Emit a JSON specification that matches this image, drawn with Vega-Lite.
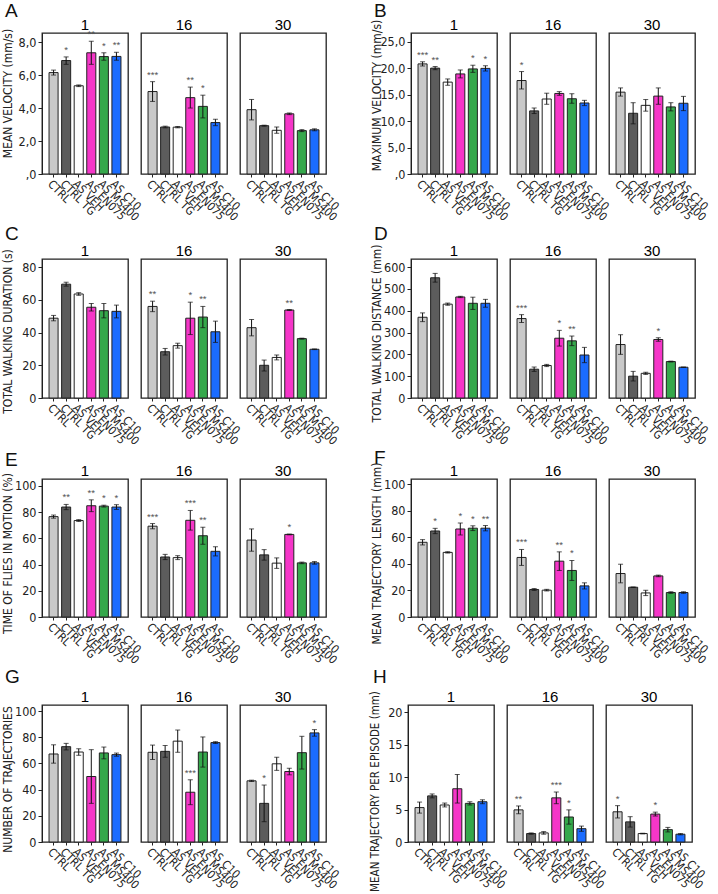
{
"$schema": "https://vega.github.io/schema/vega-lite/v6.json",
"background": "white",
"padding": {"left": 0, "top": 2, "right": 0, "bottom": 0},
"datasets": {"d": [
{"p":"A","day":"1","g":"CTRL","m":6.15,"lo":6.0,"hi":6.3,"s":""},
{"p":"A","day":"1","g":"CTRL TG","m":6.88,"lo":6.65,"hi":7.1,"s":"*"},
{"p":"A","day":"1","g":"AS VEH","m":5.35,"lo":5.3,"hi":5.4,"s":""},
{"p":"A","day":"1","g":"AS EN075","m":7.35,"lo":6.65,"hi":8.05,"s":"**"},
{"p":"A","day":"1","g":"AS MS400","m":7.12,"lo":6.9,"hi":7.35,"s":"*"},
{"p":"A","day":"1","g":"AS C10","m":7.13,"lo":6.9,"hi":7.38,"s":"**"},
{"p":"A","day":"16","g":"CTRL","m":5.0,"lo":4.4,"hi":5.6,"s":"***"},
{"p":"A","day":"16","g":"CTRL TG","m":2.85,"lo":2.8,"hi":2.9,"s":""},
{"p":"A","day":"16","g":"AS VEH","m":2.84,"lo":2.8,"hi":2.88,"s":""},
{"p":"A","day":"16","g":"AS EN075","m":4.63,"lo":4.0,"hi":5.27,"s":"**"},
{"p":"A","day":"16","g":"AS MS400","m":4.1,"lo":3.4,"hi":4.78,"s":"*"},
{"p":"A","day":"16","g":"AS C10","m":3.12,"lo":2.93,"hi":3.32,"s":""},
{"p":"A","day":"30","g":"CTRL","m":3.9,"lo":3.28,"hi":4.52,"s":""},
{"p":"A","day":"30","g":"CTRL TG","m":2.93,"lo":2.9,"hi":2.96,"s":""},
{"p":"A","day":"30","g":"AS VEH","m":2.65,"lo":2.47,"hi":2.85,"s":""},
{"p":"A","day":"30","g":"AS EN075","m":3.65,"lo":3.6,"hi":3.7,"s":""},
{"p":"A","day":"30","g":"AS MS400","m":2.63,"lo":2.57,"hi":2.69,"s":""},
{"p":"A","day":"30","g":"AS C10","m":2.68,"lo":2.62,"hi":2.74,"s":""},

{"p":"B","day":"1","g":"CTRL","m":20.85,"lo":20.45,"hi":21.25,"s":"***"},
{"p":"B","day":"1","g":"CTRL TG","m":20.05,"lo":19.75,"hi":20.35,"s":"**"},
{"p":"B","day":"1","g":"AS VEH","m":17.4,"lo":16.8,"hi":18.0,"s":""},
{"p":"B","day":"1","g":"AS EN075","m":18.95,"lo":18.2,"hi":19.7,"s":""},
{"p":"B","day":"1","g":"AS MS400","m":19.9,"lo":19.25,"hi":20.6,"s":"*"},
{"p":"B","day":"1","g":"AS C10","m":20.0,"lo":19.5,"hi":20.5,"s":"*"},
{"p":"B","day":"16","g":"CTRL","m":17.7,"lo":16.1,"hi":19.4,"s":"*"},
{"p":"B","day":"16","g":"CTRL TG","m":11.95,"lo":11.45,"hi":12.5,"s":""},
{"p":"B","day":"16","g":"AS VEH","m":14.2,"lo":13.2,"hi":15.3,"s":""},
{"p":"B","day":"16","g":"AS EN075","m":15.25,"lo":14.9,"hi":15.6,"s":""},
{"p":"B","day":"16","g":"AS MS400","m":14.25,"lo":13.4,"hi":15.2,"s":""},
{"p":"B","day":"16","g":"AS C10","m":13.45,"lo":12.95,"hi":13.95,"s":""},
{"p":"B","day":"30","g":"CTRL","m":15.5,"lo":14.75,"hi":16.3,"s":""},
{"p":"B","day":"30","g":"CTRL TG","m":11.5,"lo":9.5,"hi":13.5,"s":""},
{"p":"B","day":"30","g":"AS VEH","m":13.0,"lo":11.9,"hi":14.1,"s":""},
{"p":"B","day":"30","g":"AS EN075","m":14.75,"lo":13.2,"hi":16.3,"s":""},
{"p":"B","day":"30","g":"AS MS400","m":12.7,"lo":11.95,"hi":13.5,"s":""},
{"p":"B","day":"30","g":"AS C10","m":13.4,"lo":12.0,"hi":14.7,"s":""},

{"p":"C","day":"1","g":"CTRL","m":48.8,"lo":47.2,"hi":50.5,"s":""},
{"p":"C","day":"1","g":"CTRL TG","m":69.6,"lo":68.4,"hi":70.8,"s":""},
{"p":"C","day":"1","g":"AS VEH","m":63.6,"lo":62.8,"hi":64.4,"s":""},
{"p":"C","day":"1","g":"AS EN075","m":55.5,"lo":53.2,"hi":57.8,"s":""},
{"p":"C","day":"1","g":"AS MS400","m":53.4,"lo":49.0,"hi":57.8,"s":""},
{"p":"C","day":"1","g":"AS C10","m":53.0,"lo":49.0,"hi":56.8,"s":""},
{"p":"C","day":"16","g":"CTRL","m":56.0,"lo":52.8,"hi":59.2,"s":"**"},
{"p":"C","day":"16","g":"CTRL TG","m":28.3,"lo":26.3,"hi":30.3,"s":""},
{"p":"C","day":"16","g":"AS VEH","m":32.0,"lo":30.5,"hi":33.5,"s":""},
{"p":"C","day":"16","g":"AS EN075","m":48.8,"lo":38.8,"hi":58.6,"s":"*"},
{"p":"C","day":"16","g":"AS MS400","m":49.5,"lo":43.0,"hi":56.0,"s":"**"},
{"p":"C","day":"16","g":"AS C10","m":40.5,"lo":34.0,"hi":47.0,"s":""},
{"p":"C","day":"30","g":"CTRL","m":43.0,"lo":38.0,"hi":48.0,"s":""},
{"p":"C","day":"30","g":"CTRL TG","m":20.0,"lo":16.5,"hi":23.2,"s":""},
{"p":"C","day":"30","g":"AS VEH","m":24.8,"lo":23.3,"hi":26.3,"s":""},
{"p":"C","day":"30","g":"AS EN075","m":53.8,"lo":53.5,"hi":54.1,"s":"**"},
{"p":"C","day":"30","g":"AS MS400","m":36.3,"lo":36.0,"hi":36.6,"s":""},
{"p":"C","day":"30","g":"AS C10","m":29.8,"lo":29.6,"hi":30.0,"s":""},

{"p":"D","day":"1","g":"CTRL","m":370,"lo":350,"hi":390,"s":""},
{"p":"D","day":"1","g":"CTRL TG","m":551,"lo":531,"hi":571,"s":""},
{"p":"D","day":"1","g":"AS VEH","m":430,"lo":425,"hi":435,"s":""},
{"p":"D","day":"1","g":"AS EN075","m":463,"lo":460,"hi":466,"s":""},
{"p":"D","day":"1","g":"AS MS400","m":434,"lo":406,"hi":462,"s":""},
{"p":"D","day":"1","g":"AS C10","m":434,"lo":416,"hi":452,"s":""},
{"p":"D","day":"16","g":"CTRL","m":364,"lo":346,"hi":382,"s":"***"},
{"p":"D","day":"16","g":"CTRL TG","m":132,"lo":122,"hi":142,"s":""},
{"p":"D","day":"16","g":"AS VEH","m":149,"lo":144,"hi":154,"s":""},
{"p":"D","day":"16","g":"AS EN075","m":274,"lo":238,"hi":310,"s":"*"},
{"p":"D","day":"16","g":"AS MS400","m":262,"lo":240,"hi":284,"s":"**"},
{"p":"D","day":"16","g":"AS C10","m":197,"lo":162,"hi":232,"s":""},
{"p":"D","day":"30","g":"CTRL","m":245,"lo":200,"hi":290,"s":""},
{"p":"D","day":"30","g":"CTRL TG","m":100,"lo":78,"hi":122,"s":""},
{"p":"D","day":"30","g":"AS VEH","m":113,"lo":108,"hi":118,"s":""},
{"p":"D","day":"30","g":"AS EN075","m":268,"lo":260,"hi":276,"s":"*"},
{"p":"D","day":"30","g":"AS MS400","m":167,"lo":165,"hi":169,"s":""},
{"p":"D","day":"30","g":"AS C10","m":141,"lo":140,"hi":142,"s":""},

{"p":"E","day":"1","g":"CTRL","m":76.6,"lo":75.4,"hi":77.8,"s":""},
{"p":"E","day":"1","g":"CTRL TG","m":83.9,"lo":81.9,"hi":85.9,"s":"**"},
{"p":"E","day":"1","g":"AS VEH","m":73.6,"lo":72.9,"hi":74.3,"s":""},
{"p":"E","day":"1","g":"AS EN075","m":84.9,"lo":80.4,"hi":89.4,"s":"**"},
{"p":"E","day":"1","g":"AS MS400","m":84.6,"lo":83.9,"hi":85.3,"s":"*"},
{"p":"E","day":"1","g":"AS C10","m":83.9,"lo":82.1,"hi":85.7,"s":"*"},
{"p":"E","day":"16","g":"CTRL","m":69.3,"lo":67.3,"hi":71.3,"s":"***"},
{"p":"E","day":"16","g":"CTRL TG","m":45.8,"lo":43.8,"hi":47.8,"s":""},
{"p":"E","day":"16","g":"AS VEH","m":45.3,"lo":43.8,"hi":46.8,"s":""},
{"p":"E","day":"16","g":"AS EN075","m":73.8,"lo":66.3,"hi":81.3,"s":"***"},
{"p":"E","day":"16","g":"AS MS400","m":62.0,"lo":55.5,"hi":68.5,"s":"**"},
{"p":"E","day":"16","g":"AS C10","m":50.1,"lo":46.6,"hi":53.6,"s":""},
{"p":"E","day":"30","g":"CTRL","m":58.7,"lo":50.2,"hi":67.2,"s":""},
{"p":"E","day":"30","g":"CTRL TG","m":47.4,"lo":43.4,"hi":51.4,"s":""},
{"p":"E","day":"30","g":"AS VEH","m":41.1,"lo":37.1,"hi":45.1,"s":""},
{"p":"E","day":"30","g":"AS EN075","m":63.0,"lo":62.7,"hi":63.3,"s":"*"},
{"p":"E","day":"30","g":"AS MS400","m":41.3,"lo":40.7,"hi":41.9,"s":""},
{"p":"E","day":"30","g":"AS C10","m":41.3,"lo":40.3,"hi":42.3,"s":""},

{"p":"F","day":"1","g":"CTRL","m":56.2,"lo":54.2,"hi":58.2,"s":""},
{"p":"F","day":"1","g":"CTRL TG","m":64.7,"lo":62.7,"hi":66.7,"s":"*"},
{"p":"F","day":"1","g":"AS VEH","m":48.6,"lo":48.1,"hi":49.1,"s":""},
{"p":"F","day":"1","g":"AS EN075","m":66.2,"lo":61.7,"hi":70.7,"s":"*"},
{"p":"F","day":"1","g":"AS MS400","m":66.8,"lo":65.0,"hi":68.6,"s":"*"},
{"p":"F","day":"1","g":"AS C10","m":66.8,"lo":64.8,"hi":68.8,"s":"**"},
{"p":"F","day":"16","g":"CTRL","m":44.8,"lo":38.8,"hi":50.8,"s":"***"},
{"p":"F","day":"16","g":"CTRL TG","m":20.7,"lo":20.0,"hi":21.4,"s":""},
{"p":"F","day":"16","g":"AS VEH","m":20.2,"lo":19.6,"hi":20.8,"s":""},
{"p":"F","day":"16","g":"AS EN075","m":42.0,"lo":35.0,"hi":49.0,"s":"**"},
{"p":"F","day":"16","g":"AS MS400","m":35.0,"lo":27.5,"hi":42.5,"s":"*"},
{"p":"F","day":"16","g":"AS C10","m":23.4,"lo":21.1,"hi":25.7,"s":""},
{"p":"F","day":"30","g":"CTRL","m":32.7,"lo":25.7,"hi":39.7,"s":""},
{"p":"F","day":"30","g":"CTRL TG","m":22.4,"lo":22.2,"hi":22.6,"s":""},
{"p":"F","day":"30","g":"AS VEH","m":18.1,"lo":16.1,"hi":20.1,"s":""},
{"p":"F","day":"30","g":"AS EN075","m":30.9,"lo":30.3,"hi":31.5,"s":""},
{"p":"F","day":"30","g":"AS MS400","m":18.4,"lo":17.8,"hi":19.0,"s":""},
{"p":"F","day":"30","g":"AS C10","m":18.4,"lo":17.8,"hi":19.0,"s":""},

{"p":"G","day":"1","g":"CTRL","m":67.2,"lo":60.2,"hi":74.2,"s":""},
{"p":"G","day":"1","g":"CTRL TG","m":72.8,"lo":70.3,"hi":75.3,"s":""},
{"p":"G","day":"1","g":"AS VEH","m":68.7,"lo":66.2,"hi":71.2,"s":""},
{"p":"G","day":"1","g":"AS EN075","m":50.0,"lo":29.5,"hi":70.5,"s":""},
{"p":"G","day":"1","g":"AS MS400","m":68.0,"lo":63.5,"hi":72.5,"s":""},
{"p":"G","day":"1","g":"AS C10","m":66.7,"lo":65.5,"hi":67.9,"s":""},
{"p":"G","day":"16","g":"CTRL","m":68.5,"lo":63.0,"hi":74.0,"s":""},
{"p":"G","day":"16","g":"CTRL TG","m":69.2,"lo":64.7,"hi":73.7,"s":""},
{"p":"G","day":"16","g":"AS VEH","m":77.0,"lo":68.5,"hi":85.5,"s":""},
{"p":"G","day":"16","g":"AS EN075","m":38.0,"lo":28.5,"hi":47.5,"s":"***"},
{"p":"G","day":"16","g":"AS MS400","m":68.7,"lo":57.2,"hi":80.2,"s":""},
{"p":"G","day":"16","g":"AS C10","m":75.9,"lo":75.2,"hi":76.6,"s":""},
{"p":"G","day":"30","g":"CTRL","m":46.7,"lo":46.2,"hi":47.2,"s":""},
{"p":"G","day":"30","g":"CTRL TG","m":29.5,"lo":15.5,"hi":43.5,"s":"*"},
{"p":"G","day":"30","g":"AS VEH","m":59.7,"lo":54.7,"hi":64.7,"s":""},
{"p":"G","day":"30","g":"AS EN075","m":53.8,"lo":51.3,"hi":56.3,"s":""},
{"p":"G","day":"30","g":"AS MS400","m":68.2,"lo":55.7,"hi":80.7,"s":""},
{"p":"G","day":"30","g":"AS C10","m":83.3,"lo":80.8,"hi":85.8,"s":"*"},

{"p":"H","day":"1","g":"CTRL","m":5.3,"lo":4.45,"hi":6.15,"s":""},
{"p":"H","day":"1","g":"CTRL TG","m":7.1,"lo":6.8,"hi":7.4,"s":""},
{"p":"H","day":"1","g":"AS VEH","m":5.7,"lo":5.4,"hi":6.0,"s":""},
{"p":"H","day":"1","g":"AS EN075","m":8.2,"lo":6.0,"hi":10.4,"s":""},
{"p":"H","day":"1","g":"AS MS400","m":5.95,"lo":5.7,"hi":6.2,"s":""},
{"p":"H","day":"1","g":"AS C10","m":6.2,"lo":5.9,"hi":6.5,"s":""},
{"p":"H","day":"16","g":"CTRL","m":4.95,"lo":4.35,"hi":5.55,"s":"**"},
{"p":"H","day":"16","g":"CTRL TG","m":1.3,"lo":1.2,"hi":1.4,"s":""},
{"p":"H","day":"16","g":"AS VEH","m":1.4,"lo":1.2,"hi":1.6,"s":""},
{"p":"H","day":"16","g":"AS EN075","m":6.8,"lo":5.9,"hi":7.7,"s":"***"},
{"p":"H","day":"16","g":"AS MS400","m":3.85,"lo":2.75,"hi":4.95,"s":"*"},
{"p":"H","day":"16","g":"AS C10","m":2.05,"lo":1.65,"hi":2.45,"s":""},
{"p":"H","day":"30","g":"CTRL","m":4.65,"lo":3.7,"hi":5.6,"s":"*"},
{"p":"H","day":"30","g":"CTRL TG","m":3.1,"lo":2.3,"hi":3.9,"s":""},
{"p":"H","day":"30","g":"AS VEH","m":1.3,"lo":1.25,"hi":1.35,"s":""},
{"p":"H","day":"30","g":"AS EN075","m":4.3,"lo":4.0,"hi":4.6,"s":"*"},
{"p":"H","day":"30","g":"AS MS400","m":1.9,"lo":1.55,"hi":2.25,"s":""},
{"p":"H","day":"30","g":"AS C10","m":1.2,"lo":1.1,"hi":1.3,"s":""}
]},
"vconcat": [
 {"spacing": 28, "hconcat": [
  {"title": {"text": "A", "offset": -3}, "data": {"name": "d"}, "transform": [{"filter": "datum.p === 'A'"}], "bounds": "flush", "spacing": 13,
   "facet": {"column": {"field": "day", "type": "ordinal", "sort": ["1","16","30"], "header": {"title": null, "labelFontSize": 15, "labelPadding": 0, "labelFont": "Liberation Sans"}}},
   "spec": {"width": 86, "height": 141,
    "encoding": {"x": {"field": "g", "type": "nominal", "sort": ["CTRL","CTRL TG","AS VEH","AS EN075","AS MS400","AS C10"], "scale": {"paddingInner": 0.28, "paddingOuter": 0.56}, "axis": {"title": null, "labelAngle": 45, "labelAlign": "left", "labelBaseline": "top", "labelFontSize": 11.5, "labelOverlap": false, "tickSize": 3, "labelPadding": 1, "domain": false}}},
    "layer": [
     {"mark": {"type": "bar", "stroke": "#222", "strokeWidth": 1}, "encoding": {"y": {"field": "m", "type": "quantitative", "title": "MEAN VELOCITY (mm/s)", "scale": {"domain": [0, 8.55], "nice": false}, "axis": {"values": [0,2,4,6,8], "titleY": 60, "labelExpr": "datum.value == 0 ? ',0' : replace(format(datum.value, '.1f'), '.', ',')"}}, "color": {"field": "g", "type": "nominal", "scale": {"domain": ["CTRL","CTRL TG","AS VEH","AS EN075","AS MS400","AS C10"], "range": ["#c9c9c9","#5c5c5c","#ffffff","#f536c8","#35a84b","#1b6cff"]}, "legend": null}}},
     {"mark": {"type": "rule", "color": "#111"}, "encoding": {"y": {"field": "lo", "type": "quantitative", "title": "MEAN VELOCITY (mm/s)", "axis": {"values": [0,2,4,6,8], "titleY": 60, "labelExpr": "datum.value == 0 ? ',0' : replace(format(datum.value, '.1f'), '.', ',')"}}, "y2": {"field": "hi"}}},
     {"mark": {"type": "tick", "color": "#111", "thickness": 1, "size": 5}, "encoding": {"y": {"field": "lo", "type": "quantitative", "title": "MEAN VELOCITY (mm/s)", "axis": {"values": [0,2,4,6,8], "titleY": 60, "labelExpr": "datum.value == 0 ? ',0' : replace(format(datum.value, '.1f'), '.', ',')"}}}},
     {"mark": {"type": "tick", "color": "#111", "thickness": 1, "size": 5}, "encoding": {"y": {"field": "hi", "type": "quantitative", "title": "MEAN VELOCITY (mm/s)", "axis": {"values": [0,2,4,6,8], "titleY": 60, "labelExpr": "datum.value == 0 ? ',0' : replace(format(datum.value, '.1f'), '.', ',')"}}}},
     {"mark": {"type": "text", "baseline": "bottom", "dy": -2, "fontSize": 9.5, "fill": "#555"}, "encoding": {"y": {"field": "hi", "type": "quantitative", "title": "MEAN VELOCITY (mm/s)", "axis": {"values": [0,2,4,6,8], "titleY": 60, "labelExpr": "datum.value == 0 ? ',0' : replace(format(datum.value, '.1f'), '.', ',')"}}, "text": {"field": "s"}}}
    ]}},
  {"title": {"text": "B", "offset": -3}, "data": {"name": "d"}, "transform": [{"filter": "datum.p === 'B'"}], "bounds": "flush", "spacing": 13,
   "facet": {"column": {"field": "day", "type": "ordinal", "sort": ["1","16","30"], "header": {"title": null, "labelFontSize": 15, "labelPadding": 0, "labelFont": "Liberation Sans"}}},
   "spec": {"width": 86, "height": 141,
    "encoding": {"x": {"field": "g", "type": "nominal", "sort": ["CTRL","CTRL TG","AS VEH","AS EN075","AS MS400","AS C10"], "scale": {"paddingInner": 0.28, "paddingOuter": 0.56}, "axis": {"title": null, "labelAngle": 45, "labelAlign": "left", "labelBaseline": "top", "labelFontSize": 11.5, "labelOverlap": false, "tickSize": 3, "labelPadding": 1, "domain": false}}},
    "layer": [
     {"mark": {"type": "bar", "stroke": "#222", "strokeWidth": 1}, "encoding": {"y": {"field": "m", "type": "quantitative", "title": "MAXIMUM VELOCITY (mm/s)", "scale": {"domain": [0, 26.7], "nice": false}, "axis": {"values": [0,5,10,15,20,25], "titleY": 62, "labelExpr": "datum.value == 0 ? ',0' : replace(format(datum.value, '.1f'), '.', ',')"}}, "color": {"field": "g", "type": "nominal", "scale": {"domain": ["CTRL","CTRL TG","AS VEH","AS EN075","AS MS400","AS C10"], "range": ["#c9c9c9","#5c5c5c","#ffffff","#f536c8","#35a84b","#1b6cff"]}, "legend": null}}},
     {"mark": {"type": "rule", "color": "#111"}, "encoding": {"y": {"field": "lo", "type": "quantitative", "title": "MAXIMUM VELOCITY (mm/s)", "axis": {"values": [0,5,10,15,20,25], "titleY": 62, "labelExpr": "datum.value == 0 ? ',0' : replace(format(datum.value, '.1f'), '.', ',')"}}, "y2": {"field": "hi"}}},
     {"mark": {"type": "tick", "color": "#111", "thickness": 1, "size": 5}, "encoding": {"y": {"field": "lo", "type": "quantitative", "title": "MAXIMUM VELOCITY (mm/s)", "axis": {"values": [0,5,10,15,20,25], "titleY": 62, "labelExpr": "datum.value == 0 ? ',0' : replace(format(datum.value, '.1f'), '.', ',')"}}}},
     {"mark": {"type": "tick", "color": "#111", "thickness": 1, "size": 5}, "encoding": {"y": {"field": "hi", "type": "quantitative", "title": "MAXIMUM VELOCITY (mm/s)", "axis": {"values": [0,5,10,15,20,25], "titleY": 62, "labelExpr": "datum.value == 0 ? ',0' : replace(format(datum.value, '.1f'), '.', ',')"}}}},
     {"mark": {"type": "text", "baseline": "bottom", "dy": -2, "fontSize": 9.5, "fill": "#555"}, "encoding": {"y": {"field": "hi", "type": "quantitative", "title": "MAXIMUM VELOCITY (mm/s)", "axis": {"values": [0,5,10,15,20,25], "titleY": 62, "labelExpr": "datum.value == 0 ? ',0' : replace(format(datum.value, '.1f'), '.', ',')"}}, "text": {"field": "s"}}}
    ]}}
 ]},
 {"spacing": 28, "hconcat": [
  {"title": {"text": "C", "offset": 0}, "data": {"name": "d"}, "transform": [{"filter": "datum.p === 'C'"}], "bounds": "flush", "spacing": 13,
   "facet": {"column": {"field": "day", "type": "ordinal", "sort": ["1","16","30"], "header": {"title": null, "labelFontSize": 15, "labelPadding": 0, "labelFont": "Liberation Sans"}}},
   "spec": {"width": 86, "height": 139,
    "encoding": {"x": {"field": "g", "type": "nominal", "sort": ["CTRL","CTRL TG","AS VEH","AS EN075","AS MS400","AS C10"], "scale": {"paddingInner": 0.28, "paddingOuter": 0.56}, "axis": {"title": null, "labelAngle": 45, "labelAlign": "left", "labelBaseline": "top", "labelFontSize": 11.5, "labelOverlap": false, "tickSize": 3, "labelPadding": 1, "domain": false}}},
    "layer": [
     {"mark": {"type": "bar", "stroke": "#222", "strokeWidth": 1}, "encoding": {"y": {"field": "m", "type": "quantitative", "title": "TOTAL WALKING DURATION (s)", "scale": {"domain": [0, 85], "nice": false}, "axis": {"values": [0,20,40,60,80], "titleY": 72}}, "color": {"field": "g", "type": "nominal", "scale": {"domain": ["CTRL","CTRL TG","AS VEH","AS EN075","AS MS400","AS C10"], "range": ["#c9c9c9","#5c5c5c","#ffffff","#f536c8","#35a84b","#1b6cff"]}, "legend": null}}},
     {"mark": {"type": "rule", "color": "#111"}, "encoding": {"y": {"field": "lo", "type": "quantitative", "title": "TOTAL WALKING DURATION (s)", "axis": {"values": [0,20,40,60,80], "titleY": 72}}, "y2": {"field": "hi"}}},
     {"mark": {"type": "tick", "color": "#111", "thickness": 1, "size": 5}, "encoding": {"y": {"field": "lo", "type": "quantitative", "title": "TOTAL WALKING DURATION (s)", "axis": {"values": [0,20,40,60,80], "titleY": 72}}}},
     {"mark": {"type": "tick", "color": "#111", "thickness": 1, "size": 5}, "encoding": {"y": {"field": "hi", "type": "quantitative", "title": "TOTAL WALKING DURATION (s)", "axis": {"values": [0,20,40,60,80], "titleY": 72}}}},
     {"mark": {"type": "text", "baseline": "bottom", "dy": -2, "fontSize": 9.5, "fill": "#555"}, "encoding": {"y": {"field": "hi", "type": "quantitative", "title": "TOTAL WALKING DURATION (s)", "axis": {"values": [0,20,40,60,80], "titleY": 72}}, "text": {"field": "s"}}}
    ]}},
  {"title": {"text": "D", "offset": 0}, "data": {"name": "d"}, "transform": [{"filter": "datum.p === 'D'"}], "bounds": "flush", "spacing": 13,
   "facet": {"column": {"field": "day", "type": "ordinal", "sort": ["1","16","30"], "header": {"title": null, "labelFontSize": 15, "labelPadding": 0, "labelFont": "Liberation Sans"}}},
   "spec": {"width": 86, "height": 139,
    "encoding": {"x": {"field": "g", "type": "nominal", "sort": ["CTRL","CTRL TG","AS VEH","AS EN075","AS MS400","AS C10"], "scale": {"paddingInner": 0.28, "paddingOuter": 0.56}, "axis": {"title": null, "labelAngle": 45, "labelAlign": "left", "labelBaseline": "top", "labelFontSize": 11.5, "labelOverlap": false, "tickSize": 3, "labelPadding": 1, "domain": false}}},
    "layer": [
     {"mark": {"type": "bar", "stroke": "#222", "strokeWidth": 1}, "encoding": {"y": {"field": "m", "type": "quantitative", "title": "TOTAL WALKING DISTANCE (mm)", "scale": {"domain": [0, 637], "nice": false}, "axis": {"values": [0,100,200,300,400,500,600], "titleY": 74}}, "color": {"field": "g", "type": "nominal", "scale": {"domain": ["CTRL","CTRL TG","AS VEH","AS EN075","AS MS400","AS C10"], "range": ["#c9c9c9","#5c5c5c","#ffffff","#f536c8","#35a84b","#1b6cff"]}, "legend": null}}},
     {"mark": {"type": "rule", "color": "#111"}, "encoding": {"y": {"field": "lo", "type": "quantitative", "title": "TOTAL WALKING DISTANCE (mm)", "axis": {"values": [0,100,200,300,400,500,600], "titleY": 74}}, "y2": {"field": "hi"}}},
     {"mark": {"type": "tick", "color": "#111", "thickness": 1, "size": 5}, "encoding": {"y": {"field": "lo", "type": "quantitative", "title": "TOTAL WALKING DISTANCE (mm)", "axis": {"values": [0,100,200,300,400,500,600], "titleY": 74}}}},
     {"mark": {"type": "tick", "color": "#111", "thickness": 1, "size": 5}, "encoding": {"y": {"field": "hi", "type": "quantitative", "title": "TOTAL WALKING DISTANCE (mm)", "axis": {"values": [0,100,200,300,400,500,600], "titleY": 74}}}},
     {"mark": {"type": "text", "baseline": "bottom", "dy": -2, "fontSize": 9.5, "fill": "#555"}, "encoding": {"y": {"field": "hi", "type": "quantitative", "title": "TOTAL WALKING DISTANCE (mm)", "axis": {"values": [0,100,200,300,400,500,600], "titleY": 74}}, "text": {"field": "s"}}}
    ]}}
 ]},
 {"spacing": 28, "hconcat": [
  {"title": {"text": "E", "offset": -6}, "data": {"name": "d"}, "transform": [{"filter": "datum.p === 'E'"}], "bounds": "flush", "spacing": 13,
   "facet": {"column": {"field": "day", "type": "ordinal", "sort": ["1","16","30"], "header": {"title": null, "labelFontSize": 15, "labelPadding": 0, "labelFont": "Liberation Sans"}}},
   "spec": {"width": 86, "height": 138,
    "encoding": {"x": {"field": "g", "type": "nominal", "sort": ["CTRL","CTRL TG","AS VEH","AS EN075","AS MS400","AS C10"], "scale": {"paddingInner": 0.28, "paddingOuter": 0.56}, "axis": {"title": null, "labelAngle": 45, "labelAlign": "left", "labelBaseline": "top", "labelFontSize": 11.5, "labelOverlap": false, "tickSize": 3, "labelPadding": 1, "domain": false}}},
    "layer": [
     {"mark": {"type": "bar", "stroke": "#222", "strokeWidth": 1}, "encoding": {"y": {"field": "m", "type": "quantitative", "title": "TIME OF FLIES IN MOTION (%)", "scale": {"domain": [0, 105.3], "nice": false}, "axis": {"values": [0,20,40,60,80,100], "titleY": 74}}, "color": {"field": "g", "type": "nominal", "scale": {"domain": ["CTRL","CTRL TG","AS VEH","AS EN075","AS MS400","AS C10"], "range": ["#c9c9c9","#5c5c5c","#ffffff","#f536c8","#35a84b","#1b6cff"]}, "legend": null}}},
     {"mark": {"type": "rule", "color": "#111"}, "encoding": {"y": {"field": "lo", "type": "quantitative", "title": "TIME OF FLIES IN MOTION (%)", "axis": {"values": [0,20,40,60,80,100], "titleY": 74}}, "y2": {"field": "hi"}}},
     {"mark": {"type": "tick", "color": "#111", "thickness": 1, "size": 5}, "encoding": {"y": {"field": "lo", "type": "quantitative", "title": "TIME OF FLIES IN MOTION (%)", "axis": {"values": [0,20,40,60,80,100], "titleY": 74}}}},
     {"mark": {"type": "tick", "color": "#111", "thickness": 1, "size": 5}, "encoding": {"y": {"field": "hi", "type": "quantitative", "title": "TIME OF FLIES IN MOTION (%)", "axis": {"values": [0,20,40,60,80,100], "titleY": 74}}}},
     {"mark": {"type": "text", "baseline": "bottom", "dy": -2, "fontSize": 9.5, "fill": "#555"}, "encoding": {"y": {"field": "hi", "type": "quantitative", "title": "TIME OF FLIES IN MOTION (%)", "axis": {"values": [0,20,40,60,80,100], "titleY": 74}}, "text": {"field": "s"}}}
    ]}},
  {"title": {"text": "F", "offset": -6}, "data": {"name": "d"}, "transform": [{"filter": "datum.p === 'F'"}], "bounds": "flush", "spacing": 13,
   "facet": {"column": {"field": "day", "type": "ordinal", "sort": ["1","16","30"], "header": {"title": null, "labelFontSize": 15, "labelPadding": 0, "labelFont": "Liberation Sans"}}},
   "spec": {"width": 86, "height": 138,
    "encoding": {"x": {"field": "g", "type": "nominal", "sort": ["CTRL","CTRL TG","AS VEH","AS EN075","AS MS400","AS C10"], "scale": {"paddingInner": 0.28, "paddingOuter": 0.56}, "axis": {"title": null, "labelAngle": 45, "labelAlign": "left", "labelBaseline": "top", "labelFontSize": 11.5, "labelOverlap": false, "tickSize": 3, "labelPadding": 1, "domain": false}}},
    "layer": [
     {"mark": {"type": "bar", "stroke": "#222", "strokeWidth": 1}, "encoding": {"y": {"field": "m", "type": "quantitative", "title": "MEAN TRAJECTORY LENGTH (mm)", "scale": {"domain": [0, 103.8], "nice": false}, "axis": {"values": [0,20,40,60,80,100], "titleY": 74}}, "color": {"field": "g", "type": "nominal", "scale": {"domain": ["CTRL","CTRL TG","AS VEH","AS EN075","AS MS400","AS C10"], "range": ["#c9c9c9","#5c5c5c","#ffffff","#f536c8","#35a84b","#1b6cff"]}, "legend": null}}},
     {"mark": {"type": "rule", "color": "#111"}, "encoding": {"y": {"field": "lo", "type": "quantitative", "title": "MEAN TRAJECTORY LENGTH (mm)", "axis": {"values": [0,20,40,60,80,100], "titleY": 74}}, "y2": {"field": "hi"}}},
     {"mark": {"type": "tick", "color": "#111", "thickness": 1, "size": 5}, "encoding": {"y": {"field": "lo", "type": "quantitative", "title": "MEAN TRAJECTORY LENGTH (mm)", "axis": {"values": [0,20,40,60,80,100], "titleY": 74}}}},
     {"mark": {"type": "tick", "color": "#111", "thickness": 1, "size": 5}, "encoding": {"y": {"field": "hi", "type": "quantitative", "title": "MEAN TRAJECTORY LENGTH (mm)", "axis": {"values": [0,20,40,60,80,100], "titleY": 74}}}},
     {"mark": {"type": "text", "baseline": "bottom", "dy": -2, "fontSize": 9.5, "fill": "#555"}, "encoding": {"y": {"field": "hi", "type": "quantitative", "title": "MEAN TRAJECTORY LENGTH (mm)", "axis": {"values": [0,20,40,60,80,100], "titleY": 74}}, "text": {"field": "s"}}}
    ]}}
 ]},
 {"spacing": 28, "hconcat": [
  {"title": {"text": "G", "offset": 3}, "data": {"name": "d"}, "transform": [{"filter": "datum.p === 'G'"}], "bounds": "flush", "spacing": 13,
   "facet": {"column": {"field": "day", "type": "ordinal", "sort": ["1","16","30"], "header": {"title": null, "labelFontSize": 15, "labelPadding": 0, "labelFont": "Liberation Sans"}}},
   "spec": {"width": 86, "height": 137,
    "encoding": {"x": {"field": "g", "type": "nominal", "sort": ["CTRL","CTRL TG","AS VEH","AS EN075","AS MS400","AS C10"], "scale": {"paddingInner": 0.28, "paddingOuter": 0.56}, "axis": {"title": null, "labelAngle": 45, "labelAlign": "left", "labelBaseline": "top", "labelFontSize": 11.5, "labelOverlap": false, "tickSize": 3, "labelPadding": 1, "domain": false}}},
    "layer": [
     {"mark": {"type": "bar", "stroke": "#222", "strokeWidth": 1}, "encoding": {"y": {"field": "m", "type": "quantitative", "title": "NUMBER OF TRAJECTORIES", "scale": {"domain": [0, 104.6], "nice": false}, "axis": {"values": [0,20,40,60,80,100], "titleY": 74}}, "color": {"field": "g", "type": "nominal", "scale": {"domain": ["CTRL","CTRL TG","AS VEH","AS EN075","AS MS400","AS C10"], "range": ["#c9c9c9","#5c5c5c","#ffffff","#f536c8","#35a84b","#1b6cff"]}, "legend": null}}},
     {"mark": {"type": "rule", "color": "#111"}, "encoding": {"y": {"field": "lo", "type": "quantitative", "title": "NUMBER OF TRAJECTORIES", "axis": {"values": [0,20,40,60,80,100], "titleY": 74}}, "y2": {"field": "hi"}}},
     {"mark": {"type": "tick", "color": "#111", "thickness": 1, "size": 5}, "encoding": {"y": {"field": "lo", "type": "quantitative", "title": "NUMBER OF TRAJECTORIES", "axis": {"values": [0,20,40,60,80,100], "titleY": 74}}}},
     {"mark": {"type": "tick", "color": "#111", "thickness": 1, "size": 5}, "encoding": {"y": {"field": "hi", "type": "quantitative", "title": "NUMBER OF TRAJECTORIES", "axis": {"values": [0,20,40,60,80,100], "titleY": 74}}}},
     {"mark": {"type": "text", "baseline": "bottom", "dy": -2, "fontSize": 9.5, "fill": "#555"}, "encoding": {"y": {"field": "hi", "type": "quantitative", "title": "NUMBER OF TRAJECTORIES", "axis": {"values": [0,20,40,60,80,100], "titleY": 74}}, "text": {"field": "s"}}}
    ]}},
  {"title": {"text": "H", "offset": 3}, "data": {"name": "d"}, "transform": [{"filter": "datum.p === 'H'"}], "bounds": "flush", "spacing": 13,
   "facet": {"column": {"field": "day", "type": "ordinal", "sort": ["1","16","30"], "header": {"title": null, "labelFontSize": 15, "labelPadding": 0, "labelFont": "Liberation Sans"}}},
   "spec": {"width": 86, "height": 137,
    "encoding": {"x": {"field": "g", "type": "nominal", "sort": ["CTRL","CTRL TG","AS VEH","AS EN075","AS MS400","AS C10"], "scale": {"paddingInner": 0.28, "paddingOuter": 0.56}, "axis": {"title": null, "labelAngle": 45, "labelAlign": "left", "labelBaseline": "top", "labelFontSize": 11.5, "labelOverlap": false, "tickSize": 3, "labelPadding": 1, "domain": false}}},
    "layer": [
     {"mark": {"type": "bar", "stroke": "#222", "strokeWidth": 1}, "encoding": {"y": {"field": "m", "type": "quantitative", "title": "MEAN TRAJECTORY PER EPISODE (mm)", "scale": {"domain": [0, 21.1], "nice": false}, "axis": {"values": [0,5,10,15,20], "titleY": 86, "titleFontSize": 11.5}}, "color": {"field": "g", "type": "nominal", "scale": {"domain": ["CTRL","CTRL TG","AS VEH","AS EN075","AS MS400","AS C10"], "range": ["#c9c9c9","#5c5c5c","#ffffff","#f536c8","#35a84b","#1b6cff"]}, "legend": null}}},
     {"mark": {"type": "rule", "color": "#111"}, "encoding": {"y": {"field": "lo", "type": "quantitative", "title": "MEAN TRAJECTORY PER EPISODE (mm)", "axis": {"values": [0,5,10,15,20], "titleY": 86, "titleFontSize": 11.5}}, "y2": {"field": "hi"}}},
     {"mark": {"type": "tick", "color": "#111", "thickness": 1, "size": 5}, "encoding": {"y": {"field": "lo", "type": "quantitative", "title": "MEAN TRAJECTORY PER EPISODE (mm)", "axis": {"values": [0,5,10,15,20], "titleY": 86, "titleFontSize": 11.5}}}},
     {"mark": {"type": "tick", "color": "#111", "thickness": 1, "size": 5}, "encoding": {"y": {"field": "hi", "type": "quantitative", "title": "MEAN TRAJECTORY PER EPISODE (mm)", "axis": {"values": [0,5,10,15,20], "titleY": 86, "titleFontSize": 11.5}}}},
     {"mark": {"type": "text", "baseline": "bottom", "dy": -2, "fontSize": 9.5, "fill": "#555"}, "encoding": {"y": {"field": "hi", "type": "quantitative", "title": "MEAN TRAJECTORY PER EPISODE (mm)", "axis": {"values": [0,5,10,15,20], "titleY": 86, "titleFontSize": 11.5}}, "text": {"field": "s"}}}
    ]}}
 ]}
],
"spacing": 1,
"config": {
 "font": "Liberation Sans",
 "view": {"stroke": "#222", "strokeWidth": 1.3},
 "axis": {"grid": false, "labelFont": "Liberation Sans Narrow, DejaVu Sans Condensed, Liberation Sans", "titleFont": "Liberation Sans Narrow, DejaVu Sans Condensed, Liberation Sans", "domainColor": "#222", "tickColor": "#222", "labelColor": "#222", "titleColor": "#222"},
 "axisY": {"minExtent": 26, "maxExtent": 26, "titlePadding": 2, "labelFontSize": 12.5, "titleFontSize": 12, "titleFontWeight": "normal", "tickSize": 4, "labelPadding": 2, "labelOverlap": false},
 "title": {"fontSize": 19, "fontWeight": "normal", "anchor": "start", "frame": "bounds", "font": "Liberation Sans", "dx": 4, "color": "#111"}
}
}
